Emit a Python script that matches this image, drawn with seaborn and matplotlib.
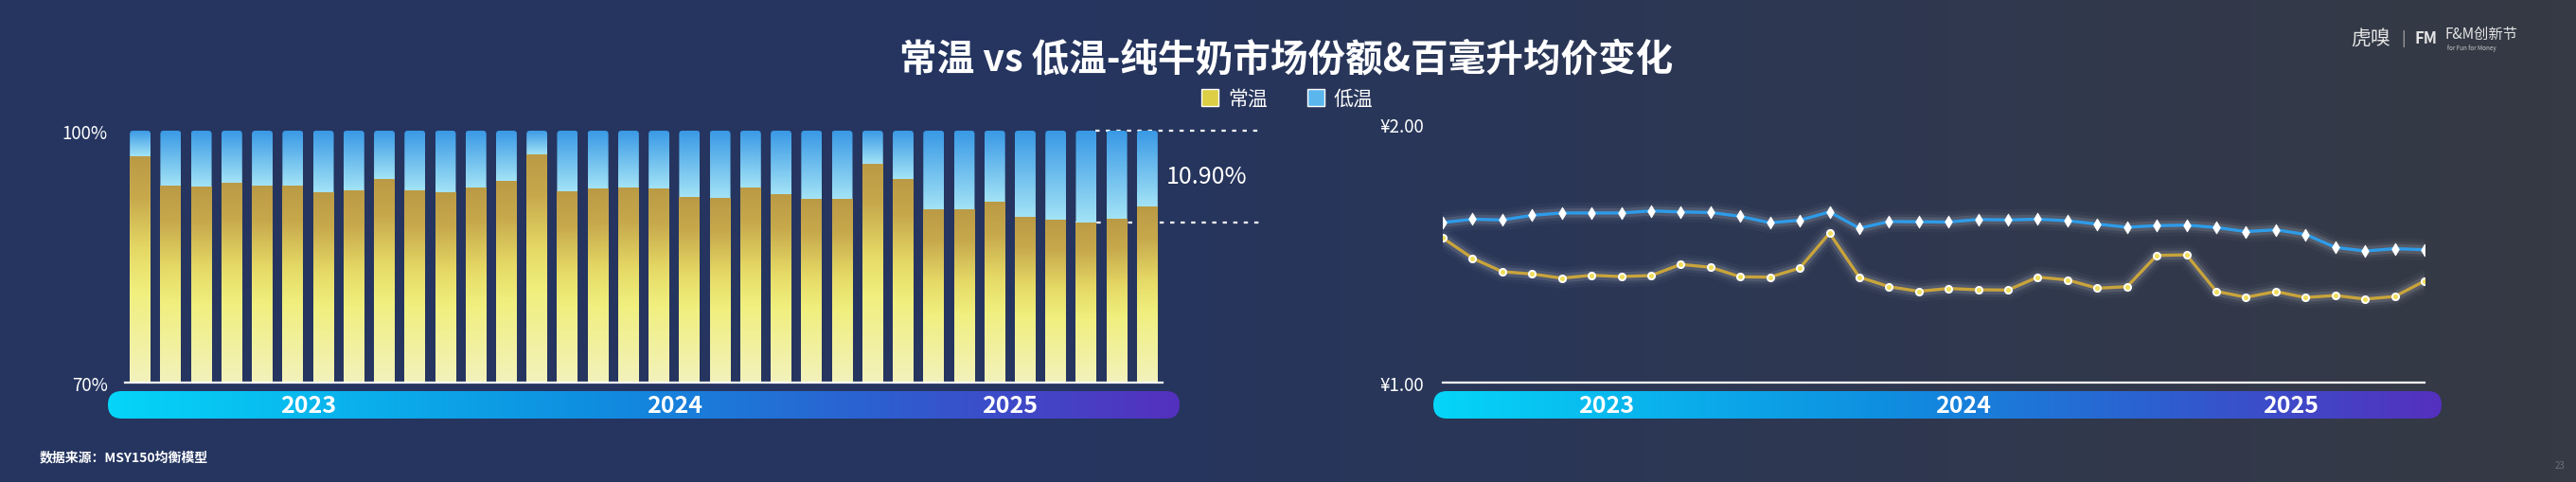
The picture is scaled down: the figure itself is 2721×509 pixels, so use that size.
import numpy as np
import pandas as pd
import matplotlib
matplotlib.use("Agg")
import matplotlib.pyplot as plt
import seaborn as sns
import matplotlib.patheffects as pe
from matplotlib.patches import FancyBboxPatch, Patch
from matplotlib.colors import LinearSegmentedColormap
from matplotlib.transforms import blended_transform_factory

# ---------------- data ----------------
years = [2023] * 12 + [2024] * 12 + [2025] * 10
months = [f"{y}-{m:02d}" for y, m in zip(years, list(range(1, 13)) * 2 + list(range(1, 11)))]

# 低温 share of pure-milk market (%)
low_share = [3.06, 6.57, 6.68, 6.23, 6.57, 6.57, 7.36, 7.13, 5.77, 7.13, 7.36, 6.79,
             6.00, 2.83, 7.25, 6.91, 6.79, 6.91, 7.92, 8.04, 6.79, 7.58, 8.15, 8.15,
             3.96, 5.77, 9.40, 9.40, 8.49, 10.30, 10.64, 10.90, 10.53, 9.06]
amb_share = [round(100 - v, 2) for v in low_share]

# price per 100 ml (¥)
low_price = [1.619, 1.632, 1.629, 1.647, 1.656, 1.656, 1.656, 1.664, 1.660, 1.658, 1.643, 1.618,
             1.628, 1.660, 1.597, 1.623, 1.622, 1.621, 1.631, 1.629, 1.632, 1.626, 1.613, 1.601,
             1.607, 1.609, 1.600, 1.584, 1.591, 1.573, 1.523, 1.509, 1.518, 1.514]
amb_price = [1.559, 1.481, 1.429, 1.420, 1.404, 1.415, 1.410, 1.414, 1.457, 1.446, 1.409, 1.408,
             1.443, 1.578, 1.408, 1.371, 1.353, 1.364, 1.359, 1.358, 1.408, 1.397, 1.365, 1.371,
             1.492, 1.494, 1.353, 1.330, 1.352, 1.329, 1.337, 1.323, 1.333, 1.393]

series_names = ["常温", "低温"]
title = "常温 vs 低温-纯牛奶市场份额&百毫升均价变化"
source = "数据来源：MSY150均衡模型"
share_ticks = [70, 100]
price_ticks = [1.0, 2.0]

# ---------------- style ----------------
sns.set_style("white")
plt.rcParams["font.family"] = ["Noto Sans CJK SC", "DejaVu Sans"]
plt.rcParams["axes.unicode_minus"] = False

W, H = 2721, 510
def fx(px): return px / W
def fy(py): return 1 - py / H

fig = plt.figure(figsize=(W / 100, H / 100), dpi=100)

# background gradient
bg = fig.add_axes([0, 0, 1, 1], zorder=-10)
bg.set_axis_off()
xs = np.linspace(0, W, 800)
t = np.clip((xs - 1100) / 1600, 0, 1)
c0 = np.array([37, 53, 96]) / 255
c1 = np.array([54, 58, 68]) / 255
img = c0[None, None, :] * (1 - t)[None, :, None] + c1[None, None, :] * t[None, :, None]
img = np.repeat(img, 2, axis=0)
bg.imshow(img, aspect="auto", extent=[0, 1, 0, 1])
bg.set_xlim(0, 1); bg.set_ylim(0, 1)

gold_cmap = LinearSegmentedColormap.from_list(
    "gold", [(0, "#F3F2BC"), (0.4, "#F0EF7E"), (0.58, "#E6DA66"), (0.82, "#C7A94C"), (1, "#BB9A45")])
blue_cmap = LinearSegmentedColormap.from_list("blue", [(0, "#A3E3F6"), (1, "#3898E5")])
band_cmap = LinearSegmentedColormap.from_list(
    "band", [(0, "#05D5F8"), (0.45, "#0F8EE0"), (0.72, "#2D5FD0"), (1, "#5430BE")])

n = len(months)
df = pd.DataFrame({"月份": months, "常温": amb_share, "低温": low_share})
df["合计"] = df["常温"] + df["低温"]

# ---------------- left: share bars ----------------
L0, L1, T0, B0 = 132, 1228, 139, 405
ax1 = fig.add_axes([fx(L0), fy(B0), fx(L1) - fx(L0), fy(T0) - fy(B0)])
ax1.patch.set_alpha(0)
bw = 0.68
sns.barplot(data=df, x="月份", y="合计", color="#3898E5", width=bw, errorbar=None,
            saturation=1, ax=ax1)
sns.barplot(data=df, x="月份", y="常温", color="#E0D060", width=bw, errorbar=None,
            saturation=1, ax=ax1)
blue_bars = ax1.patches[:n]
gold_bars = ax1.patches[n:2 * n]

px_per_x = (L1 - L0) / n
px_per_y = (B0 - T0) / (share_ticks[1] - share_ticks[0])
r_x = 3.5 / px_per_x
aspect = (3.5 / px_per_y) / r_x
grad = np.linspace(0, 1, 256)[:, None]

for pb, pg in zip(blue_bars, gold_bars):
    x0, w = pb.get_x(), pb.get_width()
    top = pb.get_y() + pb.get_height()
    split = pg.get_y() + pg.get_height()
    pb.set_facecolor("none"); pb.set_edgecolor("none")
    pg.set_facecolor("none"); pg.set_edgecolor("none")
    rbox = FancyBboxPatch((x0, pb.get_y()), w, pb.get_height(),
                          boxstyle=f"round,pad=0,rounding_size={r_x}",
                          mutation_aspect=aspect, facecolor="none", edgecolor="none")
    ax1.add_patch(rbox)
    im = ax1.imshow(grad, cmap=blue_cmap, origin="lower", aspect="auto",
                    extent=[x0, x0 + w, split, top], zorder=2)
    im.set_clip_path(rbox)
    im2 = ax1.imshow(grad, cmap=gold_cmap, origin="lower", aspect="auto",
                     extent=[x0, x0 + w, share_ticks[0], split], zorder=3)
    im2.set_clip_path(pg)

ax1.set_xlim(-0.5, n - 0.5)
ax1.set_ylim(share_ticks[0], share_ticks[1])
ax1.set_xlabel(""); ax1.set_ylabel("")
ax1.set_xticks([])
ax1.set_yticks(share_ticks)
ax1.set_yticklabels([f"{v}%" for v in share_ticks])
ax1.tick_params(axis="y", length=0, pad=13, labelsize=13.5, labelcolor="white")
for s in ["left", "right", "top"]:
    ax1.spines[s].set_visible(False)
ax1.spines["bottom"].set_color("white")
ax1.spines["bottom"].set_linewidth(1.6)
ax1.spines["bottom"].set_zorder(5)

imax = int(np.argmax(low_share))
vmax = low_share[imax]
x_end = n + 2.8
ax1.plot([imax + bw / 2 - 0.05, x_end], [100, 100], color="white", lw=1.6,
         ls=(0, (2, 3)), clip_on=False, zorder=1)
ax1.plot([imax - bw / 2, x_end], [100 - vmax, 100 - vmax], color="white", lw=1.6,
         ls=(0, (2, 3)), clip_on=False, zorder=1)
ax1.text(n + 0.95, 100 - vmax / 2, f"{vmax:.2f}%", color="white", fontsize=18,
         ha="center", va="center")

# ---------------- right: price lines ----------------
R0, R1, T1 = 1524, 2561, 132
ax2 = fig.add_axes([fx(R0), fy(B0), fx(R1) - fx(R0), fy(T1) - fy(B0)])
ax2.patch.set_alpha(0)
xi = np.arange(n)
glow = [pe.Stroke(linewidth=16, foreground="#C8CCD8", alpha=0.035),
        pe.Stroke(linewidth=11, foreground="#D8DCE6", alpha=0.06),
        pe.Stroke(linewidth=7, foreground="white", alpha=0.11),
        pe.Normal()]
sns.lineplot(x=xi, y=low_price, ax=ax2, color="#2E9BE8", lw=2.4, zorder=3)
sns.lineplot(x=xi, y=amb_price, ax=ax2, color="#C8A43C", lw=2.4, zorder=3)
for ln in ax2.lines:
    ln.set_path_effects(glow)
sns.scatterplot(x=xi, y=low_price, ax=ax2, marker="d", s=42, color="white",
                edgecolor="white", linewidth=0.6, zorder=5)
sns.scatterplot(x=xi, y=amb_price, ax=ax2, marker="o", s=26, color="#F0DE5A",
                edgecolor="white", linewidth=1.4, zorder=5)
ax2.set_xlim(0, n - 1)
ax2.set_ylim(price_ticks[0], price_ticks[1])
ax2.set_xticks([])
ax2.set_yticks(price_ticks)
ax2.set_yticklabels([f"¥{v:.2f}" for v in price_ticks])
ax2.tick_params(axis="y", length=0, pad=14, labelsize=13.5, labelcolor="white")
for s in ["left", "right", "top"]:
    ax2.spines[s].set_visible(False)
ax2.spines["bottom"].set_color("white")
ax2.spines["bottom"].set_linewidth(1.6)

# ---------------- year bands ----------------
def band(x0, x1, ax_ref):
    axb = fig.add_axes([fx(x0), fy(443), fx(x1) - fx(x0), fy(414) - fy(443)])
    axb.set_axis_off()
    w, h = x1 - x0, 29
    im = axb.imshow(np.linspace(0, 1, 512)[None, :], cmap=band_cmap,
                    extent=[0, w, 0, h], aspect="auto")
    box = FancyBboxPatch((0, 0), w, h, boxstyle=f"round,pad=0,rounding_size={h / 2}",
                         facecolor="none", edgecolor="none")
    axb.add_patch(box)
    im.set_clip_path(box)
    axb.set_xlim(0, w); axb.set_ylim(0, h)
    tr = blended_transform_factory(ax_ref.transData, fig.transFigure)
    yrs = np.array(years)
    for y in sorted(set(years)):
        xc = xi[yrs == y].mean()
        fig.text(xc, fy(429), str(y), transform=tr, color="white", fontsize=18,
                 fontweight="bold", ha="center", va="center")

band(114, 1246, ax1)
band(1514, 2579, ax2)

# ---------------- texts ----------------
fig.text(fx(1359), fy(63), title, color="white", fontsize=28.5, fontweight="bold",
         ha="center", va="center")
fig.legend(handles=[Patch(facecolor="#DCCE45", label=series_names[0]),
                    Patch(facecolor="#5BB6EE", label=series_names[1])],
           loc="center", bbox_to_anchor=(fx(1360), fy(105)), ncol=2, frameon=False,
           fontsize=15, labelcolor="white", handlelength=0.85, handleheight=1.0,
           handletextpad=0.5, columnspacing=2.0, borderaxespad=0, borderpad=0)
fig.text(fx(42), fy(483), source, color="white", fontsize=10, fontweight="bold",
         ha="left", va="center")

# logo
fig.text(fx(2483), fy(41), "虎嗅", color="#E4E4E4", fontsize=15, ha="left", va="center")
fig.text(fx(2536), fy(41), "|", color="#AAAAAA", fontsize=12, ha="left", va="center")
fig.text(fx(2551), fy(41), "FM", color="#E4E4E4", fontsize=12, fontweight="bold",
         ha="left", va="center")
fig.text(fx(2583), fy(36), "F&M创新节", color="#E4E4E4", fontsize=11, ha="left", va="center")
fig.text(fx(2585), fy(51), "for Fun for Money", color="#CCCCCC", fontsize=4.5,
         ha="left", va="center")
fig.text(fx(2704), fy(492), "23", color="#6C7080", fontsize=7, ha="center", va="center")

fig.savefig("out.png", dpi=100)
